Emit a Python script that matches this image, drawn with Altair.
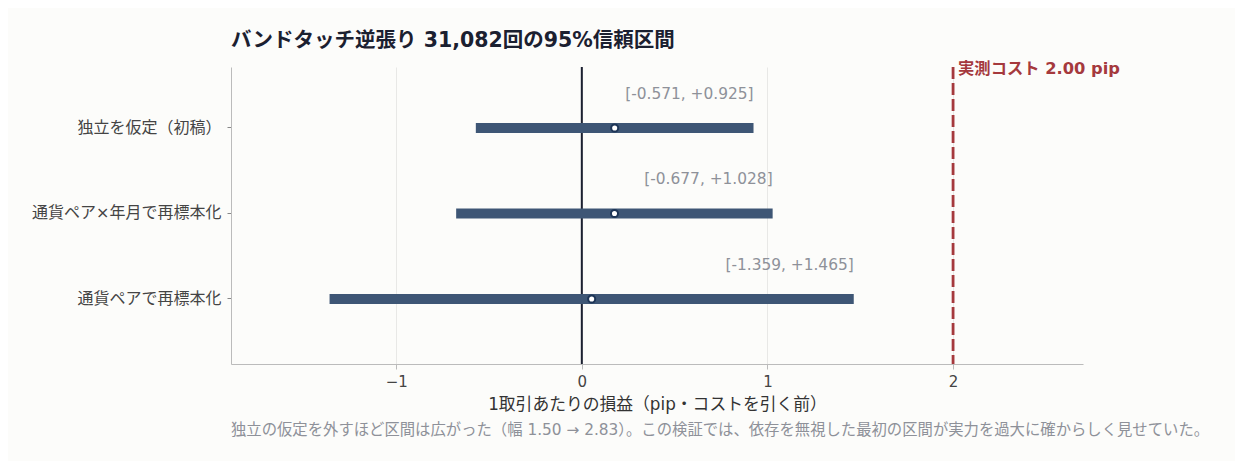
import pandas as pd
import altair as alt

labels = ["独立を仮定（初稿）", "通貨ペア×年月で再標本化", "通貨ペアで再標本化"]
lo = [-0.571, -0.677, -1.359]
hi = [0.925, 1.028, 1.465]
mid = [0.177, 0.176, 0.053]
cost = 2.0
note_text = "独立の仮定を外すほど区間は広がった（幅 1.50 → 2.83）。この検証では、依存を無視した最初の区間が実力を過大に確からしく見せていた。"

FONT = "DejaVu Sans, Noto Sans CJK JP"
W, H = 852, 297

df = pd.DataFrame({"method": labels, "lo": lo, "hi": hi, "mid": mid})
df["ci"] = [f"[{a:.3f}, +{b:.3f}]" for a, b in zip(lo, hi)]

xscale = alt.Scale(domain=[-1.89, 2.70], nice=False, zero=False)
yscale = alt.Scale(domain=labels, paddingInner=0, paddingOuter=0.237, align=0.45)

base = alt.Chart(df)

bars = base.mark_rule(size=10, color="#3e5675").encode(
    x=alt.X("lo:Q", scale=xscale,
            axis=alt.Axis(values=[-1, 0, 1, 2], format=".0f",
                          title="1取引あたりの損益（pip・コストを引く前）",
                          grid=True, gridColor="#e8e8e6", tickColor="#bbbbbb",
                          domainColor="#bbbbbb", labelFontSize=15, titleFontSize=16.8,
                          labelColor="#444444", titleColor="#333333", titleFontWeight="normal",
                          labelPadding=5, titlePadding=7)),
    x2="hi:Q",
    y=alt.Y("method:N", scale=yscale, sort=labels,
            axis=alt.Axis(title=None, grid=False, domainColor="#bbbbbb", tickColor="#888888",
                          tickSize=4, labelFontSize=16, labelColor="#444444", labelPadding=6,
                          labelLimit=300)),
)

zero = alt.Chart(pd.DataFrame({"x": [0]})).mark_rule(color="#1b2030", strokeWidth=2).encode(
    x=alt.X("x:Q", scale=xscale)
)

cost_df = pd.DataFrame({"x": [cost], "label": [f"実測コスト {cost:.2f} pip"]})
cost_line = alt.Chart(cost_df).mark_rule(color="#a5393d", strokeWidth=2.8, strokeDash=[12, 4]).encode(
    x=alt.X("x:Q", scale=xscale)
)
cost_text = alt.Chart(cost_df).mark_text(
    align="left", baseline="middle", dx=5, fontSize=16.3, fontWeight="bold", color="#a5393d", font=FONT
).encode(x=alt.X("x:Q", scale=xscale), y=alt.value(2), text="label:N")

points = base.mark_point(filled=True, size=50, fill="white", stroke="#1d3557", strokeWidth=2, opacity=1).encode(
    x=alt.X("mid:Q", scale=xscale), y=alt.Y("method:N", scale=yscale, sort=labels)
)

ci_text = base.mark_text(align="right", baseline="middle", dy=-34, fontSize=15.4,
                         color="#8e9199", font=FONT).encode(
    x=alt.X("hi:Q", scale=xscale), y=alt.Y("method:N", scale=yscale, sort=labels), text="ci:N"
)

note = alt.Chart(pd.DataFrame({"t": [note_text]})).mark_text(
    align="left", baseline="middle", fontSize=15.35, color="#8e9199", font=FONT
).encode(x=alt.value(0), y=alt.value(H + 66), text="t:N")

chart = alt.layer(zero, bars, cost_line, points, ci_text, cost_text, note).properties(
    width=W, height=H,
    autosize=alt.AutoSizeParams(type="none"),
    padding={"left": 223, "top": 59, "right": 152, "bottom": 97},
    title=alt.TitleParams("バンドタッチ逆張り 31,082回の95%信頼区間", anchor="start", frame="group",
                          fontSize=20.5, fontWeight="bold", color="#1b2030", font=FONT, offset=10),
    background="#fcfcfa",
).configure_view(stroke=None).configure_axis(labelFont=FONT, titleFont=FONT).configure_text(font=FONT)

chart.save("out.html", embed_options={"renderer": "svg", "actions": False})
